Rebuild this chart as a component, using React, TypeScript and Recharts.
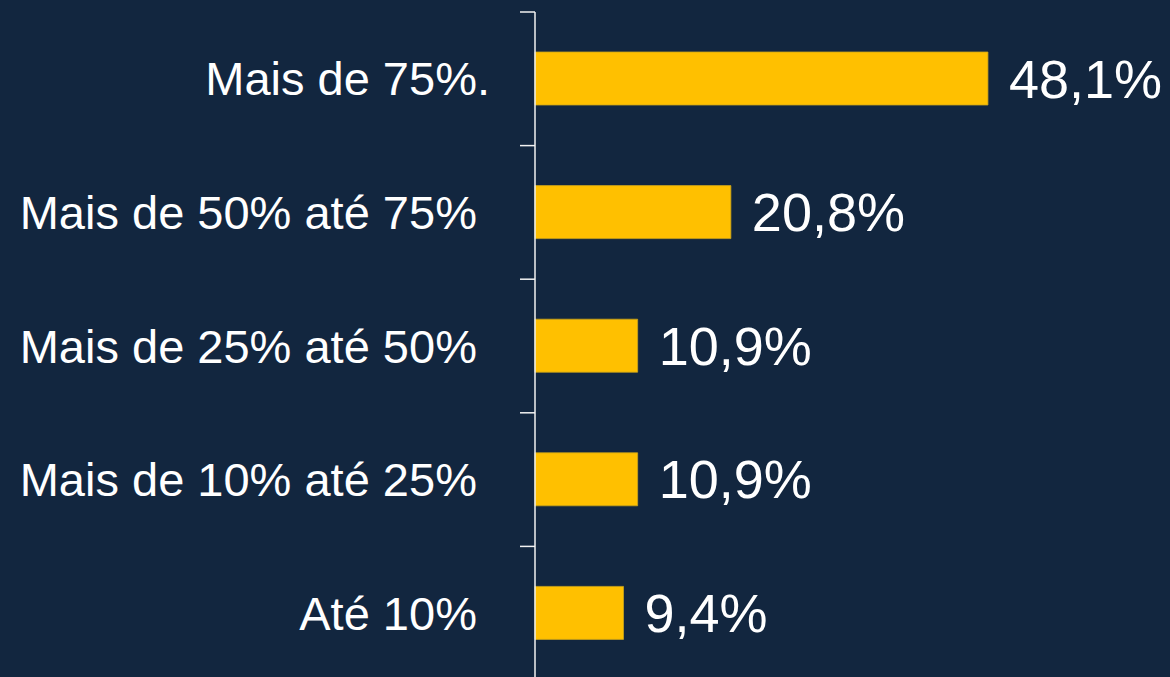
import { BarChart, Bar, XAxis, YAxis, LabelList } from "recharts";

const categories = [
  "Mais de 75%.",
  "Mais de 50% até 75%",
  "Mais de 25% até 50%",
  "Mais de 10% até 25%",
  "Até 10%",
];
const shares = [48.1, 20.8, 10.9, 10.9, 9.4];

const data = categories.map((name, i) => ({ name, value: shares[i] }));

const BG = "#12263f";
const GOLD = "#ffc000";
const FONT = "'Liberation Sans', Arial, sans-serif";

// label right-aligned left of the axis, tick mark at the band's upper edge
function CategoryTick(props: any) {
  const { x, y, payload } = props;
  const edge = y - (payload.offset || 0);
  const label = String(payload.value);
  // the source labels carry a trailing space, except the one ending in a period
  const shown = label.endsWith(".") ? label : label + "\u00a0";
  return (
    <g>
      <line x1={x - 15} x2={x} y1={edge} y2={edge} stroke="#f2f2f2" strokeWidth={1.5} />
      <text
        x={x - 45}
        y={y}
        textAnchor="end"
        dominantBaseline="central"
        fill="#ffffff"
        fontSize={47}
        fontFamily={FONT}
        style={{ whiteSpace: "pre" }}
      >
        {shown}
      </text>
    </g>
  );
}

export default function App() {
  return (
    <div
      style={{
        position: "absolute",
        left: 0,
        top: 0,
        width: 1170,
        height: 677,
        overflow: "hidden",
        background: BG,
      }}
    >
      <BarChart
        width={1170}
        height={680}
        data={data}
        layout="vertical"
        margin={{ top: 12, right: 70, bottom: 0, left: 0 }}
      >
        <XAxis type="number" domain={[0, 60]} hide />
        <YAxis
          type="category"
          dataKey="name"
          width={535}
          tickLine={false}
          tickSize={0}
          tickMargin={0}
          axisLine={{ stroke: "#f2f2f2", strokeWidth: 1.5 }}
          tick={<CategoryTick />}
          interval={0}
        />
        <Bar
          dataKey="value"
          fill={GOLD}
          stroke="#c9a31c"
          strokeWidth={0.8}
          barSize={53}
          isAnimationActive={false}
        >
          <LabelList
            dataKey="value"
            position="right"
            offset={21}
            fill="#ffffff"
            fontSize={54}
            fontFamily={FONT}
            formatter={(v: any) => String(v).replace(".", ",") + "%"}
          />
        </Bar>
      </BarChart>
    </div>
  );
}
